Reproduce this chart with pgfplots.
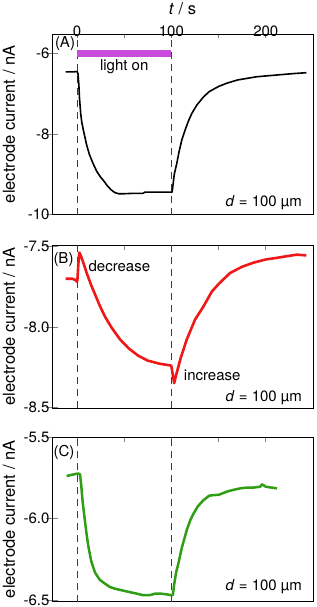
\documentclass[border=0pt]{standalone}
\usepackage{pgfplots}
\pgfplotsset{compat=1.18}
\usepackage{fontspec}
\setmainfont{TeX Gyre Heros}
\definecolor{lighton}{RGB}{200,75,220}
\definecolor{cred}{RGB}{238,24,24}
\definecolor{cgreen}{RGB}{48,158,20}
\definecolor{dashgray}{RGB}{60,60,60}
\newcommand{\tfont}{\fontsize{15}{18}\selectfont}
\newcommand{\lfont}{\fontsize{16.5}{19}\selectfont}
\pgfplotsset{
  panel/.style={
    scale only axis, width=261pt, xmin=-26.5, xmax=250,
    axis line style={line width=0.9pt},
    tick align=center, major tick length=12.6pt, minor tick length=4.5pt,
    xtick={0,100,200}, minor xtick={0,50,100,150,200},
    major x tick style={draw=none},
    minor x tick style={line width=0.8pt, yshift=-2.25pt},
    major y tick style={line width=0.8pt},
    xtick pos=upper, xticklabel pos=upper,
    ytick pos=left, yticklabel pos=left,
    every tick label/.append style={font=\tfont},
    /pgf/number format/assume math mode=true,
    yticklabel style={anchor=east, inner sep=0pt, xshift=4pt},
    xticklabel style={anchor=south, inner sep=0pt, yshift=-9pt},
    ylabel={electrode current / nA},
    ylabel style={at={(axis description cs:-0.1648,0.5)}, anchor=center, inner sep=0pt, font=\lfont},
  },
  vdash/.style={dashgray, line width=0.9pt, dash pattern=on 7pt off 5pt, forget plot},
}
\begin{document}
\begin{tikzpicture}[x=1pt,y=1pt]
% ---------------- Panel A ----------------
\begin{axis}[panel, at={(0pt,0pt)}, anchor=north west,
  height=180.7pt, ymin=-10, ymax=-5.52, ytick={-10,-8,-6},
  xlabel={\textit{t} / s},
  xlabel style={at={(axis description cs:0.5,1)}, anchor=center, yshift=25pt, font=\lfont},
]
\addplot[vdash] coordinates {(0,-10) (0,-5.52)};
\addplot[vdash] coordinates {(100,-10) (100,-5.52)};
\addplot[lighton, line width=6.7pt, forget plot] coordinates {(0,-6) (100,-6)};
\addplot[black, line width=1.6pt, line join=round] coordinates {
(-12,-6.46) (-5,-6.46) (0,-6.45) (1,-6.5) (2,-6.8) (2.5,-7.07) (3.9,-7.49) (5,-7.7)
(6.7,-7.9) (10,-8.25) (13,-8.5) (17,-8.73) (21,-8.93) (25,-9.07) (28,-9.15) (32,-9.28)
(36,-9.38) (40,-9.45) (44,-9.48) (50,-9.48) (60,-9.47) (70,-9.47) (72,-9.44) (85,-9.44)
(100,-9.44) (100.7,-9.44) (101.5,-9.3) (103,-9.0) (105.7,-8.73) (108,-8.45) (111,-8.15)
(114.5,-7.9) (118,-7.68) (121.6,-7.49) (127,-7.28) (134,-7.08) (140,-6.95) (150,-6.82)
(158.7,-6.74) (170,-6.66) (180,-6.62) (190.5,-6.58) (200,-6.56) (215,-6.53) (230,-6.5) (243,-6.48)
};
\node[font=\tfont, inner sep=0pt] at (axis cs:50,-6.33) {light on};
\node[font=\tfont, inner sep=0pt, xshift=13pt, yshift=-10pt] at (axis description cs:0,1) {(A)};
\node[font=\tfont, inner sep=0pt, anchor=east, xshift=-11pt, yshift=12.5pt] at (axis description cs:1,0) {\textit{d} = 100 µm};
\end{axis}
% ---------------- Panel B ----------------
\begin{axis}[panel, at={(0pt,-211pt)}, anchor=north west,
  height=163pt, ymin=-8.505, ymax=-7.49, ytick={-8.5,-8,-7.5}, xticklabels={},
  yticklabel style={/pgf/number format/.cd, fixed, fixed zerofill, precision=1},
]
\addplot[vdash] coordinates {(0,-8.505) (0,-7.49)};
\addplot[vdash] coordinates {(100,-8.505) (100,-7.49)};
\addplot[cred, line width=2.6pt, line join=round] coordinates {
(-12,-7.70) (-5,-7.70) (-1,-7.71) (0,-7.72) (0.5,-7.70) (1.5,-7.6) (2.5,-7.537) (5,-7.57)
(10.3,-7.665) (15,-7.74) (20,-7.81) (24.4,-7.872) (30,-7.94) (36.8,-8.006) (45.6,-8.078)
(55,-8.135) (65,-8.18) (75,-8.21) (88,-8.23) (99,-8.24) (100,-8.245) (101.5,-8.30)
(102.9,-8.35) (105,-8.30) (110,-8.19) (116.3,-8.078) (125,-7.955) (134,-7.872) (142.8,-7.78)
(150,-7.733) (162,-7.665) (175,-7.625) (187,-7.60) (200,-7.58) (211.8,-7.57) (222,-7.56)
(233,-7.55) (243,-7.555)
};
\node[font=\tfont, inner sep=0pt, xshift=11.5pt, yshift=-15pt] at (axis description cs:0,1) {(B)};
\node[font=\tfont, inner sep=0pt] at (axis cs:44.9,-7.62) {decrease};
\node[font=\tfont, inner sep=0pt] at (axis cs:143.2,-8.30) {increase};
\node[font=\tfont, inner sep=0pt, anchor=east, xshift=-11pt, yshift=10.5pt] at (axis description cs:1,0) {\textit{d} = 100 µm};
\end{axis}
% ---------------- Panel C ----------------
\begin{axis}[panel, at={(0pt,-403pt)}, anchor=north west,
  height=164.7pt, ymin=-6.51, ymax=-5.5, ytick={-6.5,-6,-5.5}, xticklabels={},
  yticklabel style={/pgf/number format/.cd, fixed, fixed zerofill, precision=1},
]
\addplot[vdash] coordinates {(0,-6.51) (0,-5.5)};
\addplot[vdash] coordinates {(100,-6.51) (100,-5.5)};
\addplot[cgreen, line width=2.5pt, line join=round] coordinates {
(-11,-5.74) (-8,-5.735) (-4,-5.73) (0,-5.725) (2,-5.725) (3.2,-5.73) (4.5,-5.8) (6,-5.9)
(8.1,-6.0) (10,-6.09) (12,-6.17) (15,-6.26) (19,-6.33) (24,-6.375) (29.7,-6.40) (35,-6.42)
(40,-6.43) (47.4,-6.44) (55,-6.45) (63,-6.46) (70,-6.47) (77,-6.47) (83,-6.46) (88,-6.46)
(95,-6.465) (100,-6.47) (101.5,-6.47) (103,-6.4) (105,-6.33) (107.4,-6.275) (111,-6.18)
(116.3,-6.07) (120,-6.01) (123.4,-5.97) (128,-5.925) (134,-5.887) (140,-5.86) (144.6,-5.856)
(150,-5.855) (158.7,-5.835) (165,-5.825) (172.9,-5.815) (180,-5.81) (187,-5.81) (194,-5.805)
(196,-5.79) (200,-5.805) (206,-5.81) (211.8,-5.815)
};
\node[font=\tfont, inner sep=0pt, xshift=12pt, yshift=-15.5pt] at (axis description cs:0,1) {(C)};
\node[font=\tfont, inner sep=0pt, anchor=east, xshift=-11pt, yshift=15pt] at (axis description cs:1,0) {\textit{d} = 100 µm};
\end{axis}
\pgfresetboundingbox
\path[use as bounding box] (-52,-573) rectangle (264,34);
\end{tikzpicture}
\end{document}
